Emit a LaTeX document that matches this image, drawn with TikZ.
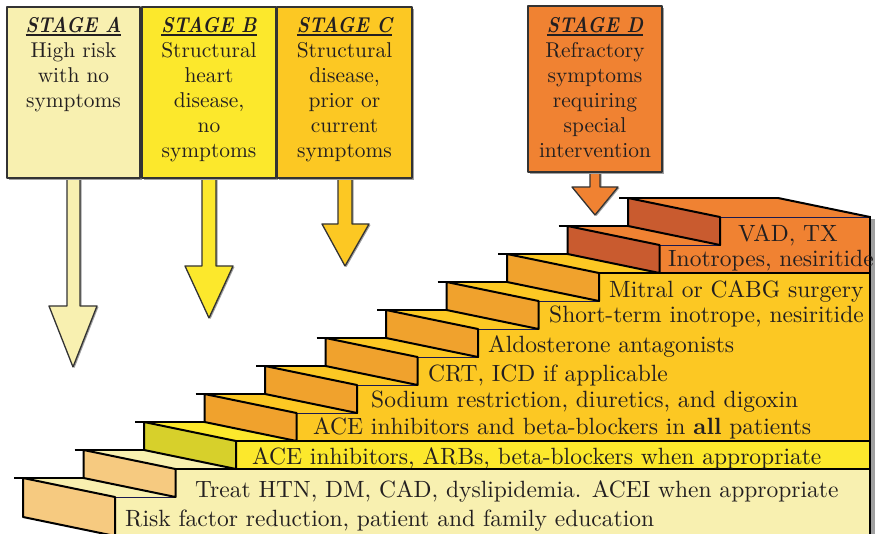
\documentclass[tikz,border=0pt]{standalone}
\usepackage{fontspec}
\setmainfont{lmroman10-regular.otf}[BoldFont=lmroman10-bold.otf, ItalicFont=lmroman10-italic.otf, BoldItalicFont=lmroman10-bolditalic.otf]
\definecolor{bandA}{HTML}{F8F0B0}
\definecolor{bandB}{HTML}{FCE82C}
\definecolor{bandC}{HTML}{FCC823}
\definecolor{bandD}{HTML}{F08232}
\definecolor{riserA}{HTML}{F6CA80}
\definecolor{riserB}{HTML}{D7D02B}
\definecolor{riserC}{HTML}{F0A22D}
\definecolor{riserD}{HTML}{C95B2F}
\definecolor{navy}{HTML}{1A1A50}
\definecolor{boxline}{HTML}{333333}
\definecolor{shadowgray}{HTML}{A0A0A0}
\definecolor{txt}{HTML}{231F20}
\newlength\calibw
\newcommand{\stghead}[1]{\setbox0=\hbox{\scalebox{\headscale}[1]{\bfseries\itshape #1}}\rlap{\rule[-4pt]{\wd0}{2.3pt}}\box0}
\begin{document}
\settowidth\calibw{\fontsize{25}{25}\selectfont Risk factor reduction, patient and family education}
\pgfmathsetmacro\mainsize{25*529/\calibw}
\settowidth\calibw{\fontsize{22}{22}\selectfont intervention}
\pgfmathsetmacro\stagesize{22*112/\calibw}
\settowidth\calibw{\fontsize{\stagesize}{25}\selectfont\bfseries\itshape STAGE A}
\pgfmathsetmacro\headscale{96/\calibw}
\begin{tikzpicture}[x=1pt,y=-1pt,
  stair/.style={draw=black, line width=2pt, line join=round},
  lipline/.style={draw=black, line width=1.6pt},
  profile/.style={draw=navy, line width=1.2pt, line join=round},
  sepline/.style={draw=black, line width=1.4pt},
  stagebox/.style={draw=boxline, line width=1.3pt, line join=round},
  shade/.style={fill=shadowgray},
  stagetext/.style={anchor=north, align=center, inner sep=0pt, text=txt, font=\fontsize{\stagesize}{25}\selectfont},
  steptext/.style={anchor=base west, inner sep=0pt, text=txt, font=\fontsize{\mainsize}{28}\selectfont}]
\useasboundingbox (0,0) rectangle (876,534);
\begin{scope}
\clip (0,0) rectangle (876,534);
% side profile bands
\fill[bandA] (115,536) -- (115,497) -- (175.5,497) -- (175.5,469) -- (870,469) -- (870,536) -- cycle;
\fill[bandB] (236,469) -- (236,441) -- (870,441) -- (870,469) -- cycle;
\fill[bandC] (296.5,441) -- (296.5,413) -- (357,413) -- (357,385) -- (417.5,385) -- (417.5,357) -- (478,357) -- (478,329) -- (538.5,329) -- (538.5,301) -- (599,301) -- (599,273) -- (870,273) -- (870,441) -- cycle;
\fill[bandD] (659.5,273) -- (659.5,245) -- (720,245) -- (720,217) -- (870,217) -- (870,273) -- cycle;
\draw[profile] (115,536) -- (115,497) -- (175.5,497) -- (175.5,469) -- (236,469) -- (236,441) -- (296.5,441) -- (296.5,413) -- (357,413) -- (357,385) -- (417.5,385) -- (417.5,357) -- (478,357) -- (478,329) -- (538.5,329) -- (538.5,301) -- (599,301) -- (599,273) -- (659.5,273) -- (659.5,245) -- (720,245) -- (720,217) -- (870,217);
% steps
\foreach \i/\rc/\tc in {1/riserA/bandA,2/riserA/bandA,3/riserB/bandB,4/riserC/bandC,5/riserC/bandC,6/riserC/bandC,7/riserC/bandC,8/riserC/bandC,9/riserC/bandC,10/riserD/bandD,11/riserD/bandD}{
  \pgfmathsetmacro\R{115+60.5*(\i-1)}
  \pgfmathsetmacro\T{497-28*(\i-1)}
  \pgfmathsetmacro\B{\i==1 ? 536 : \T+28}
  \pgfmathsetmacro\Rn{\i==11 ? 870 : \R+60.5}
  \pgfmathsetmacro\D{\i==11 ? 150 : 60.5}
  \fill[\tc] (\R,\T) -- ++(-92,-19) -- ++(\D,0) -- (\Rn,\T) -- cycle;
  \draw[lipline] ({\R-101},{\T-19}) -- ({\R-92+\D},{\T-19});
  \filldraw[fill=\rc, stair] (\R,\T) -- ({\R-92},{\T-19}) -- ({\R-92},{\B-19}) -- (\R,\B) -- cycle;
}
\draw[stair] (778,198) -- (870,217);
% band separators and right border
\draw[sepline] (175.5,469) -- (870,469);
\draw[sepline] (236,441) -- (870,441);
\draw[sepline] (599,273) -- (870,273);
\fill[shadowgray] (871,219) rectangle (874.5,534);
\draw[line width=1.5pt, black] (870,216) -- (870,536);
\end{scope}
% step labels
\node[steptext] (t11) at (738,242) {VAD, TX};
\node[steptext] (t10) at (668,267) {Inotropes, nesiritide};
\node[steptext] (t9) at (609,298) {Mitral or CABG surgery};
\node[steptext] (t8) at (549,323) {Short-term inotrope, nesiritide};
\node[steptext] (t7) at (488,353) {Aldosterone antagonists};
\node[steptext] (t6) at (428,382) {CRT, ICD if applicable};
\node[steptext] (t5) at (371,408) {Sodium restriction, diuretics, and digoxin};
\node[steptext] (t4) at (313,435) {ACE inhibitors and beta-blockers in \textbf{all} patients};
\node[steptext] (t3) at (252,465) {ACE inhibitors, ARBs, beta-blockers when appropriate};
\node[steptext] (t2) at (195,498) {Treat HTN, DM, CAD, dyslipidemia. ACEI when appropriate};
\node[steptext] (t1) at (125,526) {Risk factor reduction, patient and family education};
% stage arrows (shadow, then arrow)
\fill[shade, shift={(1.5,1)}] (67,170) -- (67,306) -- (49,306) -- (73,367) -- (97,306) -- (80,306) -- (80,170) -- cycle;
\filldraw[fill=bandA, stagebox] (67,170) -- (67,306) -- (49,306) -- (73,367) -- (97,306) -- (80,306) -- (80,170) -- cycle;
\fill[shade, shift={(1.5,1)}] (202,170) -- (202,266) -- (185,266) -- (209,318) -- (233,266) -- (216,266) -- (216,170) -- cycle;
\filldraw[fill=bandB, stagebox] (202,170) -- (202,266) -- (185,266) -- (209,318) -- (233,266) -- (216,266) -- (216,170) -- cycle;
\fill[shade, shift={(1.5,1)}] (338,170) -- (338,224) -- (322,224) -- (345,266) -- (369,224) -- (352,224) -- (352,170) -- cycle;
\filldraw[fill=bandC, stagebox] (338,170) -- (338,224) -- (322,224) -- (345,266) -- (369,224) -- (352,224) -- (352,170) -- cycle;
\fill[shade, shift={(1.5,1)}] (590,165) -- (590,187) -- (572,187) -- (595,215) -- (618,187) -- (600,187) -- (600,165) -- cycle;
\filldraw[fill=bandD, stagebox] (590,165) -- (590,187) -- (572,187) -- (595,215) -- (618,187) -- (600,187) -- (600,165) -- cycle;
% stage boxes
\fill[shade] (9,9) rectangle (142,180);
\filldraw[fill=bandA, stagebox] (7,7) rectangle (140,178);
\fill[shade] (144,9) rectangle (278,180);
\filldraw[fill=bandB, stagebox] (142,7) rectangle (276,178);
\fill[shade] (279,9) rectangle (414,180);
\filldraw[fill=bandC, stagebox] (277,7) rectangle (412,178);
\fill[shade] (530,8) rectangle (664,174);
\filldraw[fill=bandD, stagebox] (528,6) rectangle (662,172);
\node[stagetext] (sa) at (73.5,14) {\rule{0pt}{18pt}\stghead{STAGE A}\\High risk\\with no\\symptoms};
\node[stagetext] (sb) at (209,14) {\rule{0pt}{18pt}\stghead{STAGE B}\\Structural\\heart\\disease,\\no\\symptoms};
\node[stagetext] (sc) at (344.5,14) {\rule{0pt}{18pt}\stghead{STAGE C}\\Structural\\disease,\\prior or\\current\\symptoms};
\node[stagetext] (sd) at (595,14) {\rule{0pt}{18pt}\stghead{STAGE D}\\Refractory\\symptoms\\requiring\\special\\intervention};
\end{tikzpicture}
\end{document}
